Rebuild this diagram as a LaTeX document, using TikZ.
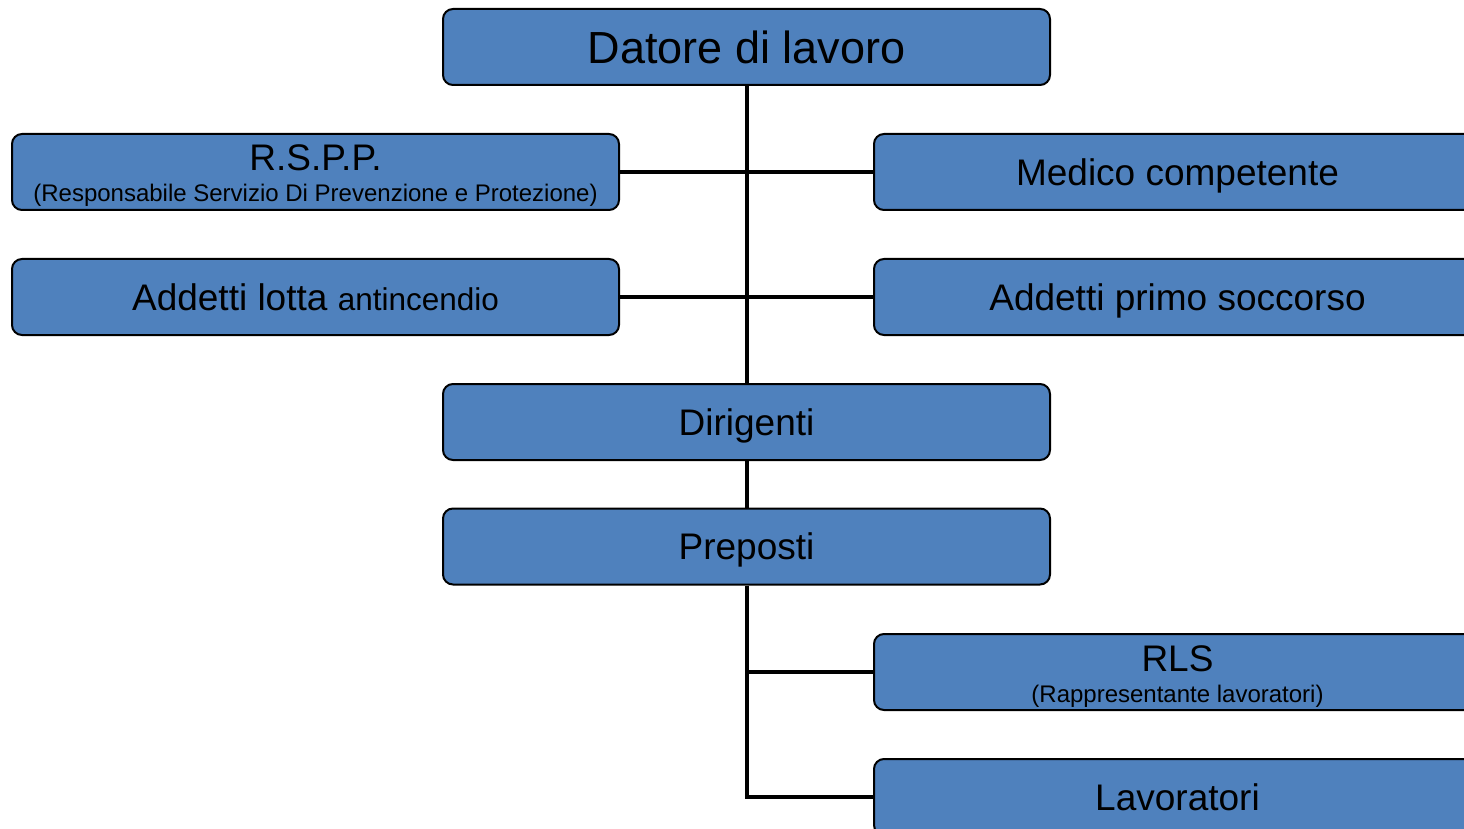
\documentclass[tikz,border=0pt]{standalone}
\usepackage{fontspec}
\setmainfont{Liberation Sans}
\definecolor{boxblue}{HTML}{4F81BD}
\begin{document}
\begin{tikzpicture}[x=0.5pt,y=-0.5pt,
  orgbox/.style={draw=black, line width=1pt, fill=boxblue, rounded corners=5pt,
    minimum width=303.5pt, minimum height=38pt, inner sep=0pt,
    text height=13.3pt, text depth=0pt,
    font=\fontsize{18.5}{22}\selectfont},
  boxtitle/.style={anchor=base, inner sep=0pt, font=\fontsize{18.5}{22}\selectfont},
  boxsub/.style={anchor=base, inner sep=0pt, font=\fontsize{12}{14}\selectfont},
  link/.style={line width=2pt, black}]
\useasboundingbox (0,0) rectangle (1464,829);
\clip (0,0) rectangle (1464,829);
% boxes
\node[orgbox, text height=16.2pt, font=\fontsize{22.5}{26}\selectfont] (dat) at (746.5,47) {Datore di lavoro};
\node[orgbox] (rspp) at (315.5,172) {};
\node[orgbox] (med) at (1177.5,172) {Medico competente};
\node[orgbox] (lotta) at (315.5,297) {Addetti lotta {\fontsize{15.75}{18}\selectfont antincendio}};
\node[orgbox] (primo) at (1177.5,297) {Addetti primo soccorso};
\node[orgbox] (dir) at (746.5,422) {Dirigenti};
\node[orgbox] (prep) at (746.5,546.5) {Preposti};
\node[orgbox] (rls) at (1177.5,672) {};
\node[orgbox] (lav) at (1177.5,797) {Lavoratori};
% two-line texts
\node[boxtitle] (rsppT) at (315.5,171) {R.S.P.P.};
\node[boxsub] (rsppS) at (315.5,202) {(Responsabile Servizio Di Prevenzione e Protezione)};
\node[boxtitle] (rlsT) at (1177.5,671) {RLS};
\node[boxsub] (rlsS) at (1177.5,702) {(Rappresentante lavoratori)};
% connectors
\draw[link] (dat.south) -- (dir.north);
\draw[link] (rspp.east) -- (med.west);
\draw[link] (lotta.east) -- (primo.west);
\draw[link] (dir.south) -- (prep.north);
\draw[link] (prep.south) |- (rls.west);
\draw[link] (prep.south) |- (lav.west);
\end{tikzpicture}
\end{document}
